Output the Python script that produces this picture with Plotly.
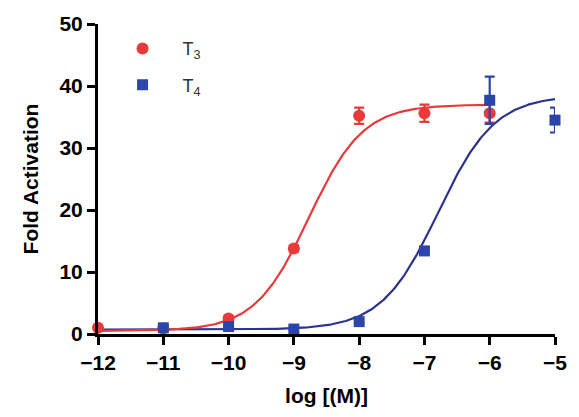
import numpy as np
import plotly.graph_objects as go

# Concentrations (log M) and measured fold activation with error bars
t3_logc = [-12, -11, -10, -9, -8, -7, -6]
t3_fold = [1.0, 0.9, 2.5, 13.8, 35.2, 35.6, 35.6]
t3_err = [0.3, 0.2, 0.4, 0.5, 1.3, 1.4, 1.5]

t4_logc = [-11, -10, -9, -8, -7, -6, -5]
t4_fold = [1.0, 1.2, 0.8, 2.0, 13.4, 37.7, 34.5]
t4_err = [0.3, 0.3, 0.2, 0.3, 0.5, 3.8, 2.0]

# Four-parameter logistic fit parameters: bottom, top, logEC50, Hill slope
t3_fit = dict(bottom=0.5, top=37.0, logec50=-8.77, hill=1.05)
t4_fit = dict(bottom=0.7, top=38.5, logec50=-6.79, hill=1.0)

RED = "#e8393b"
BLUE = "#2d45a8"
BLUE_LINE = "#2a338e"
FONT = "Liberation Sans, Arial, sans-serif"


def logistic(x, p):
    return p["bottom"] + (p["top"] - p["bottom"]) / (1 + 10 ** ((p["logec50"] - x) * p["hill"]))


x3 = np.linspace(-12, -6, 300)
x4 = np.linspace(-12, -5, 300)

fig = go.Figure()

fig.add_trace(go.Scatter(x=x4, y=logistic(x4, t4_fit), mode="lines",
                         line=dict(color=BLUE_LINE, width=2.2),
                         showlegend=False, hoverinfo="skip", cliponaxis=False))
fig.add_trace(go.Scatter(x=x3, y=logistic(x3, t3_fit), mode="lines",
                         line=dict(color=RED, width=2.2),
                         showlegend=False, hoverinfo="skip", cliponaxis=False))

fig.add_trace(go.Scatter(
    x=t3_logc, y=t3_fold, mode="markers", name="T<sub>3</sub>",
    legendgroup="t3",
    marker=dict(symbol="circle", size=12, color=RED),
    error_y=dict(type="data", array=t3_err, color=RED, thickness=2.2, width=5),
    cliponaxis=False))
fig.add_trace(go.Scatter(
    x=t4_logc, y=t4_fold, mode="markers", name="T<sub>4</sub>",
    legendgroup="t4",
    marker=dict(symbol="square", size=11, color=BLUE),
    error_y=dict(type="data", array=t4_err, color=BLUE, thickness=2.2, width=5),
    cliponaxis=False))

axis_common = dict(
    showline=True, linecolor="black", linewidth=3,
    ticks="outside", ticklen=8, tickwidth=3, tickcolor="black",
    showgrid=False, zeroline=False,
    tickfont=dict(family=FONT, size=21, color="black", weight="bold"),
)

fig.update_layout(
    width=579, height=417,
    margin=dict(l=98, r=14, t=24, b=83),
    paper_bgcolor="white", plot_bgcolor="white",
    xaxis=dict(range=[-12, -5], tickmode="array", tickvals=list(range(-12, -4)),
               title=dict(text="log [(M)]", standoff=16,
                          font=dict(family=FONT, size=21, color="black", weight="bold")),
               **axis_common),
    yaxis=dict(range=[0, 50], tickmode="array", tickvals=[0, 10, 20, 30, 40, 50],
               title=dict(text="Fold Activation", standoff=16,
                          font=dict(family=FONT, size=21, color="black", weight="bold")),
               **axis_common),
    legend=dict(x=0.01, y=0.98, xanchor="left", yanchor="top",
                bgcolor="rgba(0,0,0,0)", traceorder="grouped", tracegroupgap=10,
                itemwidth=70,
                font=dict(family=FONT, size=18, color="#333333")),
    showlegend=True,
)

fig.write_html("out.html")
